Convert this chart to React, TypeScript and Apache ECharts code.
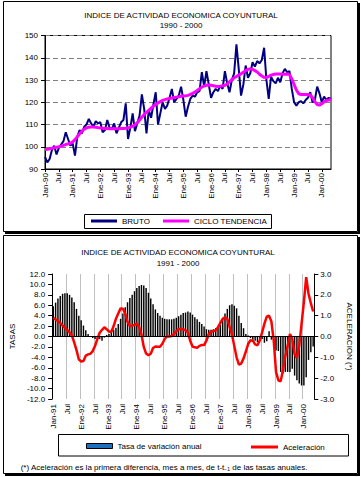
import React, { useEffect, useRef } from "react";
import * as echarts from "echarts";

const FONT = "'Liberation Sans', Arial, sans-serif";

const TOP_TICK_LABELS = ["Jan-90", "Jul", "Jan-91", "Jul", "Ene-92", "Jul", "Ene-93", "Jul", "Ene-94", "Jul", "Ene-95", "Jul", "Ene-96", "Jul", "Ene-97", "Jul", "Jan-98", "Jul", "Jan-99", "Jul", "Jan-00"];
const BOTTOM_TICK_LABELS = ["Jan-91", "Jul", "Ene-92", "Jul", "Ene-93", "Jul", "Ene-94", "Jul", "Ene-95", "Jul", "Ene-96", "Jul", "Ene-97", "Jul", "Jan-98", "Jul", "Jan-99", "Jul", "Jan-00"];

// Monthly index, Jan-90 .. May-00
const BRUTO = [
  95.5, 93.0, 94.5, 98.5, 100.5, 96.5, 99.5, 101.0, 102.5, 106.5, 103.5, 100.5,
  101.5, 96.0, 104.5, 107.5, 106.0, 109.0, 110.0, 112.5, 110.5, 109.0, 111.5, 110.5,
  111.0, 106.5, 107.5, 112.0, 108.5, 108.0, 110.5, 106.0, 108.5, 111.0, 112.0, 119.5,
  103.5, 108.5, 115.0, 107.0, 110.5, 114.0, 123.5, 117.0, 106.0, 116.5, 113.0, 119.0,
  124.5, 110.0, 115.0, 120.0, 117.0, 118.5, 122.0, 126.0, 120.0, 121.5, 123.0, 127.0,
  121.0, 113.5, 118.0, 121.5, 123.0, 122.5, 124.5, 125.0, 133.5, 127.0, 134.0, 128.0,
  122.0, 124.5, 126.0, 125.0, 127.5, 126.0, 134.0, 128.5, 124.5, 130.0, 133.0, 146.0,
  135.0, 123.0, 128.0, 136.5, 131.0, 133.0, 138.0, 136.0, 138.5, 137.5, 139.0, 144.5,
  130.0, 121.5, 131.5, 129.5, 128.5, 131.0, 129.0, 133.0, 135.0, 133.5, 134.0, 126.0,
  120.0, 118.5, 120.0, 120.5, 119.5, 121.0, 122.0, 124.5, 120.0, 121.0, 127.0, 124.0,
  120.0, 122.5, 121.0, 122.0, 121.5,
];

const CICLO = [
  98.8, 98.9, 99.1, 99.3, 99.6, 99.8, 100.0, 100.3, 100.6, 101.0, 101.3, 101.6,
  102.2, 103.2, 104.5, 105.8, 107.0, 107.9, 108.5, 108.8, 108.9, 108.9, 108.8, 108.6,
  108.4, 108.3, 108.2, 108.2, 108.1, 108.1, 108.1, 108.1, 108.1, 108.2, 108.2, 108.3,
  108.5, 108.8, 109.3, 109.8, 110.8, 112.0, 113.3, 114.5, 115.5, 116.4, 117.3, 118.2,
  119.0, 119.7, 120.3, 120.8, 121.2, 121.5, 121.7, 121.9, 122.1, 122.3, 122.5, 122.7,
  122.8, 122.9, 123.1, 123.5, 124.0, 124.6, 125.3, 126.1, 126.8, 127.3, 127.6, 127.7,
  127.6, 127.4, 127.2, 127.1, 127.2, 127.4, 127.6, 128.2, 129.2, 130.2, 131.0, 131.6,
  132.2, 132.8, 133.5, 134.2, 134.8, 135.0, 134.8, 134.2, 133.6, 132.6, 131.8, 131.2,
  131.1, 131.6, 132.2, 132.5, 132.7, 132.7, 132.7, 132.6, 132.6, 132.7, 132.5, 130.5,
  128.0, 125.5, 123.8, 123.5, 123.5, 123.5, 123.5, 123.3, 122.0, 120.3, 119.0, 118.7,
  119.3, 120.2, 120.8, 121.0, 121.4,
];

// Monthly, Jan-91 .. May-00
const TASA = [
  5.8, 6.5, 7.3, 7.8, 8.2, 8.3, 8.3, 8.0, 7.5, 6.6, 5.3, 4.0,
  3.1, 2.1, 1.2, 0.5, 0.1, -0.3, -0.5, -0.7, -0.5, -0.8, -0.2, 0.3,
  0.5, 0.9, 1.3, 1.7, 2.4, 3.4, 4.4, 5.6, 6.6, 7.4, 8.0, 8.7,
  9.3, 9.7, 9.9, 9.8, 9.3, 8.4, 7.3, 6.2, 5.2, 4.5, 4.0, 3.6,
  3.4, 3.3, 3.3, 3.3, 3.4, 3.6, 3.9, 4.2, 4.5, 4.6, 4.8, 4.6,
  4.2, 3.7, 3.3, 2.8, 2.4, 1.9, 1.4, 1.3, 1.3, 1.4, 1.6, 1.8,
  2.2, 3.4, 4.4, 5.3, 6.0, 6.2, 5.9, 5.4, 4.0, 2.6, 1.6, 0.5,
  0.2, -0.3, -0.6, -0.8, -1.1, -0.8, -0.5, -1.2, -0.9, 1.0, -0.6, -1.5,
  -2.7, -2.8, -6.8, -7.1, -6.8, -6.8, -6.8, -6.2, -7.5, -8.4, -9.0, -9.4,
  -9.4, -7.8, -4.5, -3.0, -1.9,
];

const ACEL = [
  0.90, 0.82, 0.74, 0.65, 0.52, 0.42, 0.32, 0.20, 0.05, -0.28, -0.65, -1.10,
  -1.20, -1.18, -0.92, -0.86, -0.83, -0.70, -0.45, -0.12, 0.18, 0.32, 0.44, 0.35,
  0.24, 0.22, 0.50, 0.85, 1.10, 1.35, 1.33, 1.10, 0.70, 0.50, 0.52, 0.56,
  0.62, 0.45, 0.10, -0.50, -0.82, -0.90, -0.83, -0.55, -0.48, -0.49, -0.49, -0.35,
  -0.12, 0.00, 0.00, 0.02, 0.12, 0.25, 0.36, 0.36, 0.34, 0.30, 0.20, -0.20,
  -0.48, -0.52, -0.54, -0.45, -0.41, -0.41, -0.20, 0.12, 0.22, 0.26, 0.30, 0.45,
  0.65, 0.85, 0.92, 0.85, 0.45, 0.10, -0.45, -1.00, -1.35, -1.30, -1.05, -0.72,
  -0.35, -0.18, -0.20, -0.38, -0.42, -0.20, 0.20, 0.62, 0.95, 1.00, 0.72, -0.20,
  -1.70, -2.10, -2.15, -1.60, -0.95, -0.45, 0.12, -0.10, -0.85, -1.02, -0.45, 0.60,
  1.65, 2.85, 2.05, 1.60, 1.20,
];

const topMonths = BRUTO.map((_, i) => `${1990 + Math.floor(i / 12)}-${(i % 12) + 1}`);
const bottomMonths = TASA.map((_, i) => `${1991 + Math.floor(i / 12)}-${(i % 12) + 1}`);

const txt = (x: number, y: number, text: string, size = 8, align = "center") => ({
  type: "text",
  x,
  y,
  style: {
    text,
    fill: "#000",
    font: `${size}px ${FONT}`,
    fontSize: size,
    fontFamily: FONT,
    align,
    verticalAlign: "middle",
    textAlign: align,
    textVerticalAlign: "middle",
  },
});

export default function App() {
  const ref = useRef<HTMLDivElement>(null);
  useEffect(() => {
    if (!ref.current) return;
    const chart = echarts.init(ref.current, undefined, { renderer: "svg" });
    const black = { color: "#000", width: 1 };
    const option: any = {
      animation: false,
      backgroundColor: "#fff",
      textStyle: { fontFamily: FONT },
      grid: [
        { left: 45, top: 35.5, width: 286, height: 133.5, show: true, borderColor: "#000", borderWidth: 1, backgroundColor: "transparent" },
        { left: 50.7, top: 274, width: 268.3, height: 125 },
      ],
      xAxis: [
        {
          gridIndex: 0,
          type: "category",
          data: topMonths,
          boundaryGap: false,
          axisLine: { lineStyle: black },
          axisTick: { interval: 5, length: 3, lineStyle: black },
          axisLabel: {
            interval: 5,
            rotate: 90,
            fontSize: 8,
            color: "#000",
            margin: 4,
            formatter: (_v: string, i: number) => (i % 6 === 0 ? TOP_TICK_LABELS[i / 6] ?? "" : ""),
          },
          splitLine: { show: false },
        },
        {
          gridIndex: 1,
          type: "category",
          data: bottomMonths,
          boundaryGap: true,
          axisLine: { lineStyle: black },
          axisTick: { interval: 5, length: 3, lineStyle: black },
          axisLabel: {
            interval: 5,
            rotate: 90,
            fontSize: 8,
            color: "#000",
            margin: 5,
            formatter: (_v: string, i: number) => (i % 6 === 0 ? BOTTOM_TICK_LABELS[i / 6] ?? "" : ""),
          },
          splitLine: { show: true, interval: 5, lineStyle: { color: "#C0C0C0", width: 1 } },
        },
      ],
      yAxis: [
        {
          gridIndex: 0,
          type: "value",
          min: 90,
          max: 150,
          interval: 10,
          axisLine: { show: true, lineStyle: black },
          axisTick: { show: true, length: 4, lineStyle: black },
          axisLabel: { fontSize: 8, color: "#000", margin: 7 },
          splitLine: { show: true, lineStyle: { color: "#808080", width: 1, type: [5, 3] } },
        },
        {
          gridIndex: 1,
          type: "value",
          min: -12,
          max: 12,
          interval: 2,
          name: "TASAS",
          nameLocation: "middle",
          nameGap: 34,
          nameRotate: 90,
          nameTextStyle: { fontSize: 8, color: "#000" },
          axisLine: { show: true, lineStyle: black },
          axisTick: { show: true, length: 4, lineStyle: black },
          axisLabel: { fontSize: 8, color: "#000", margin: 7, formatter: (v: number) => v.toFixed(1) },
          splitLine: { show: false },
        },
        {
          gridIndex: 1,
          type: "value",
          position: "right",
          min: -3,
          max: 3,
          interval: 1,
          name: "ACELERACION (*)",
          nameLocation: "middle",
          nameGap: 27,
          nameRotate: -90,
          nameTextStyle: { fontSize: 8, color: "#000" },
          axisLine: { show: true, lineStyle: black },
          axisTick: { show: true, length: 4, lineStyle: black },
          axisLabel: { fontSize: 8, color: "#000", margin: 6, formatter: (v: number) => v.toFixed(1) },
          splitLine: { show: false },
        },
      ],
      legend: [
        { data: [{ name: "BRUTO", icon: "rect" }], left: 91, top: 217, itemWidth: 26, itemHeight: 3, padding: 0, textStyle: { fontSize: 8, color: "#000" } },
        { data: [{ name: "CICLO TENDENCIA", icon: "rect" }], left: 163, top: 217, itemWidth: 26, itemHeight: 3, padding: 0, textStyle: { fontSize: 8, color: "#000" } },
        {
          data: [{ name: "Tasa de variación anual", icon: "rect", itemStyle: { color: "#1F6FBF", borderColor: "#000", borderWidth: 1 } }],
          left: 86, top: 442, itemWidth: 26, itemHeight: 5, padding: 0, textStyle: { fontSize: 8, color: "#000" },
        },
        { data: [{ name: "Aceleración", icon: "rect" }], left: 251, top: 443, itemWidth: 27, itemHeight: 3, padding: 0, textStyle: { fontSize: 8, color: "#000" } },
      ],
      series: [
        {
          name: "BRUTO",
          type: "line",
          xAxisIndex: 0,
          yAxisIndex: 0,
          data: BRUTO,
          symbol: "none",
          lineStyle: { color: "#000080", width: 2 },
          itemStyle: { color: "#000080" },
        },
        {
          name: "CICLO TENDENCIA",
          type: "line",
          xAxisIndex: 0,
          yAxisIndex: 0,
          data: CICLO,
          symbol: "none",
          lineStyle: { color: "#FF00FF", width: 3 },
          itemStyle: { color: "#FF00FF" },
        },
        {
          name: "Tasa de variación anual",
          type: "bar",
          xAxisIndex: 1,
          yAxisIndex: 1,
          data: TASA,
          barWidth: "62%",
          itemStyle: { color: "#000" },
          markLine: {
            silent: true,
            symbol: "none",
            label: { show: false },
            lineStyle: { color: "#000", width: 1, type: "solid" },
            data: [{ yAxis: 0 }],
          },
        },
        {
          name: "Aceleración",
          type: "line",
          xAxisIndex: 1,
          yAxisIndex: 2,
          data: ACEL,
          symbol: "none",
          z: 4,
          lineStyle: { color: "#FF0000", width: 2.5 },
          itemStyle: { color: "#FF0000" },
        },
      ],
      graphic: [
        { type: "rect", shape: { x: 3.5, y: 1.5, width: 354, height: 230 }, style: { fill: "none", stroke: "#000", lineWidth: 1 } },
        { type: "rect", shape: { x: 5, y: 232, width: 355, height: 2 }, style: { fill: "#000" } },
        { type: "rect", shape: { x: 358, y: 3, width: 2, height: 231 }, style: { fill: "#000" } },
        { type: "rect", shape: { x: 3.5, y: 235.5, width: 354, height: 238 }, style: { fill: "none", stroke: "#000", lineWidth: 1 } },
        { type: "rect", shape: { x: 5, y: 474, width: 355, height: 2 }, style: { fill: "#000" } },
        { type: "rect", shape: { x: 358, y: 237, width: 2, height: 239 }, style: { fill: "#000" } },
        { type: "rect", shape: { x: 84.5, y: 214.5, width: 187, height: 14 }, style: { fill: "none", stroke: "#000", lineWidth: 1 } },
        { type: "rect", shape: { x: 58.5, y: 434.5, width: 290, height: 21.5 }, style: { fill: "none", stroke: "#000", lineWidth: 1 } },
        txt(181, 15, "INDICE DE ACTIVIDAD ECONOMICA COYUNTURAL"),
        txt(181, 25, "1990 - 2000"),
        txt(178, 252.5, "INDICE DE ACTIVIDAD ECONOMICA COYUNTURAL"),
        txt(178, 263.5, "1991 - 2000"),
        txt(20.7, 467.5, "(*) Aceleración es la primera diferencia, mes a mes, de t-t₋₁ de las tasas anuales.", 8, "left"),
      ],
    };
    chart.setOption(option);
    return () => chart.dispose();
  }, []);
  return <div ref={ref} style={{ position: "absolute", left: 0, top: 0, width: 361, height: 477 }} />;
}
